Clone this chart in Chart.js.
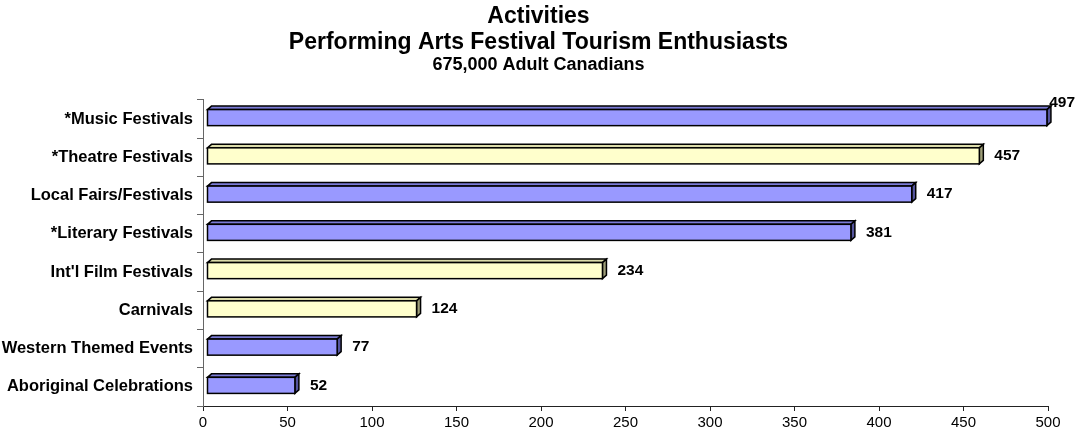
<!DOCTYPE html>
<html>
<head>
<meta charset="utf-8">
<title>Activities</title>
<script src="https://cdn.jsdelivr.net/npm/chart.js@4.4.1/dist/chart.umd.min.js"></script>
<style>
  html, body { margin: 0; padding: 0; background: #fff; }
  #wrap { width: 1077px; height: 437px; position: relative; }
</style>
</head>
<body>
<div id="wrap"><canvas id="graph"></canvas></div>
<script>
// activities, thousands of adults
var categories = ["*Music Festivals", "*Theatre Festivals", "Local Fairs/Festivals", "*Literary Festivals",
    "Int'l Film Festivals", "Carnivals", "Western Themed Events", "Aboriginal Celebrations"];
var values = [497, 457, 417, 381, 234, 124, 77, 52];
var barTypes = ["blue", "yellow", "blue", "blue", "yellow", "yellow", "blue", "blue"];
var xTicks = [0, 50, 100, 150, 200, 250, 300, 350, 400, 450, 500];

var titleLines = ["Activities", "Performing Arts Festival Tourism Enthusiasts"];
var subtitleText = "675,000 Adult Canadians";

var palette = {
    blue:   { front: "#9999ff", top: "#7b7bd6", side: "#55559e" },
    yellow: { front: "#ffffcc", top: "#dcdcaa", side: "#9e9e78" }
};

var FONT = "'Liberation Sans', Arial, sans-serif";
var DEPTH_X = 4, DEPTH_Y = 3.5;

// draws each bar as a small box: front, top and right side faces
var boxBars = {
    id: "boxBars",
    afterDatasetsDraw: function (chart) {
        var ctx = chart.ctx;
        var meta = chart.getDatasetMeta(0);
        ctx.save();
        ctx.lineJoin = "miter";
        ctx.lineWidth = 1.5;
        ctx.strokeStyle = "#000";
        meta.data.forEach(function (bar, i) {
            var p = bar.getProps(["x", "y", "base", "height"], true);
            var c = palette[barTypes[i]];
            var x0 = p.base + DEPTH_X, x1 = p.x + DEPTH_X;
            var y0 = p.y - p.height / 2 - 1.5, y1 = y0 + p.height;

            // top face
            ctx.beginPath();
            ctx.moveTo(x0, y0);
            ctx.lineTo(x0 + DEPTH_X, y0 - DEPTH_Y);
            ctx.lineTo(x1 + DEPTH_X, y0 - DEPTH_Y);
            ctx.lineTo(x1, y0);
            ctx.closePath();
            ctx.fillStyle = c.top;
            ctx.fill();
            ctx.stroke();

            // side face
            ctx.beginPath();
            ctx.moveTo(x1, y0);
            ctx.lineTo(x1 + DEPTH_X, y0 - DEPTH_Y);
            ctx.lineTo(x1 + DEPTH_X, y1 - DEPTH_Y);
            ctx.lineTo(x1, y1);
            ctx.closePath();
            ctx.fillStyle = c.side;
            ctx.fill();
            ctx.stroke();

            // front face
            ctx.fillStyle = c.front;
            ctx.fillRect(x0, y0, x1 - x0, y1 - y0);
            ctx.strokeRect(x0, y0, x1 - x0, y1 - y0);

            // value label
            var txt = String(values[i]);
            ctx.font = "bold 15.5px " + FONT;
            ctx.fillStyle = "#000";
            ctx.textBaseline = "middle";
            var w = ctx.measureText(txt).width;
            var lx = x1 + 15, ly = (y0 + y1) / 2;
            if (lx + w > chart.width - 1) {
                lx = chart.width - 2 - w;
                ly -= 15;
            }
            ctx.textAlign = "left";
            ctx.fillText(txt, lx, ly);
        });
        ctx.restore();
    }
};

var ctx = document.getElementById("graph").getContext("2d");
var chart = new Chart(ctx, {
    type: "bar",
    data: {
        labels: categories,
        datasets: [{
            data: values,
            backgroundColor: "rgba(0,0,0,0)",
            borderWidth: 0,
            categoryPercentage: 1.0,
            barPercentage: 0.42
        }]
    },
    plugins: [boxBars],
    options: {
        indexAxis: "y",
        responsive: true,
        maintainAspectRatio: false,
        animation: false,
        layout: { padding: { left: 0, right: 0, top: 0, bottom: 2 } },
        plugins: {
            legend: { display: false },
            tooltip: { enabled: false },
            title: {
                display: true,
                text: titleLines,
                color: "#000",
                font: { family: FONT, size: 23, weight: "bold", lineHeight: 1.13 },
                padding: { top: 4, bottom: 0 }
            },
            subtitle: {
                display: true,
                text: subtitleText,
                color: "#000",
                font: { family: FONT, size: 18, weight: "bold", lineHeight: 1.0 },
                padding: { top: 0, bottom: 26 }
            }
        },
        scales: {
            x: {
                min: 0,
                max: 500,
                afterBuildTicks: function (scale) {
                    scale.ticks = xTicks.map(function (v) { return { value: v }; });
                },
                afterFit: function (scale) {
                    scale.paddingRight = 29;
                },
                border: { display: true, color: "#222", width: 1 },
                grid: { drawOnChartArea: false, drawTicks: true, tickLength: 5, color: "#222" },
                ticks: { color: "#000", padding: 3, font: { family: FONT, size: 15 } }
            },
            y: {
                afterFit: function (scale) {
                    scale.width = 203;
                },
                border: { display: true, color: "#666", width: 1 },
                grid: { drawOnChartArea: false, drawTicks: true, tickLength: 6, color: "#666", offset: true },
                ticks: { color: "#000", padding: 4, font: { family: FONT, size: 16.5, weight: "bold" } }
            }
        }
    }
});
</script>
</body>
</html>
